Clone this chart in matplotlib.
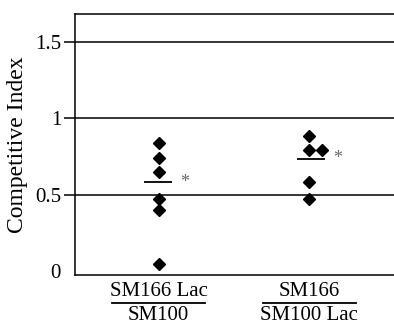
import numpy as np
import matplotlib.pyplot as plt

# competitive index values
group_x = [1, 2]
g1_vals = [0.84, 0.74, 0.65, 0.47, 0.40, 0.05]
g2_vals = [0.88, 0.79, 0.79, 0.58, 0.47]
g2_offsets = [0, 0, 0.085, 0, 0]
means = [0.58, 0.735]
top_labels = ["SM166 Lac", "SM166"]
bottom_labels = ["SM100", "SM100 Lac"]
ytick_vals = [0, 0.5, 1, 1.5]
ytick_text = ['0', '0.5', '1', '1.5']

plt.rcParams['font.family'] = ['Liberation Serif', 'DejaVu Serif']

fig = plt.figure(figsize=(3.94, 3.27), dpi=100)
ax = fig.add_axes([75/394, 1 - 275/327, 1 - 75/394, 261/327])

ax.set_xlim(0.444, 2.562)
ax.set_ylim(-0.025, 1.68)

for t in ytick_vals[1:]:
    ax.axhline(t, color='black', lw=1.1, zorder=1)

ax.plot([group_x[0]] * len(g1_vals), g1_vals, 'D', color='black', ms=6.5, zorder=3)
ax.plot(np.array([group_x[1]] * len(g2_vals)) + np.array(g2_offsets), g2_vals, 'D',
        color='black', ms=6.5, zorder=3)

mean_x = [0.995, 2.01]
for mx, m in zip(mean_x, means):
    ax.hlines(m, mx - 0.093, mx + 0.093, color='black', lw=1.3, zorder=2)
    ax.text(mx + 0.15, m, '*', color='#666666', fontsize=13, ha='left', va='center')

ax.set_yticks(ytick_vals)
ax.set_yticklabels(ytick_text, fontsize=15)
ax.tick_params(axis='y', length=8, width=1.1, direction='out', pad=2)
ax.yaxis.get_major_ticks()[0].tick1line.set_visible(False)
ax.set_xticks([])

ax.set_ylabel('Competitive Index', fontsize=17, labelpad=5)

ax.spines['right'].set_visible(False)
for s in ['left', 'top', 'bottom']:
    ax.spines[s].set_linewidth(1.1)

trans = ax.get_xaxis_transform()
for gx, top, bot in zip(group_x, top_labels, bottom_labels):
    ax.text(gx, -0.064, top, transform=trans, ha='center', va='center', fontsize=15, clip_on=False)
    ax.plot([gx - 0.31, gx + 0.31], [-0.108, -0.108], color='black', lw=1.3,
            transform=trans, clip_on=False)
    ax.text(gx, -0.117, bot, transform=trans, ha='center', va='top', fontsize=15, clip_on=False)

fig.savefig('out.png', dpi=100)
